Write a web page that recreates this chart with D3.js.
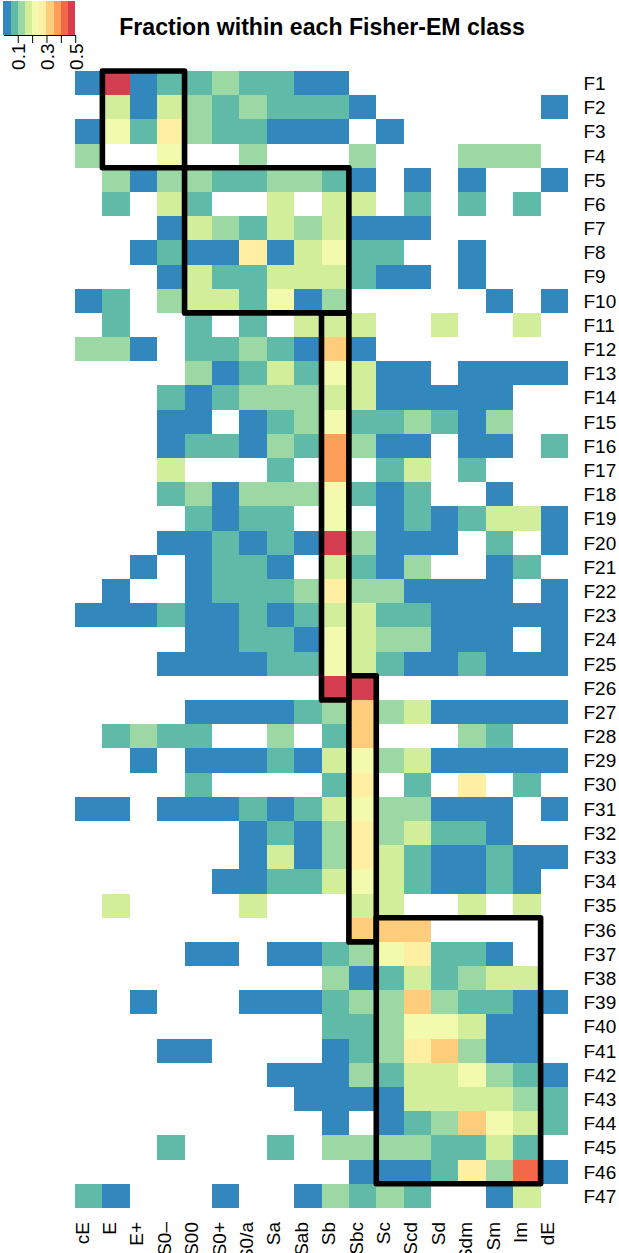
<!DOCTYPE html>
<html><head><meta charset="utf-8">
<script src="https://cdn.jsdelivr.net/npm/d3@7/dist/d3.min.js"></script>
<style>html,body{margin:0;padding:0;background:#fff;overflow:hidden}svg{display:block}text{font-family:"Liberation Sans",Arial,sans-serif;fill:#000}</style>
</head><body><svg id="c" width="619" height="1253"></svg>
<script>
const morphTypes = ["cE","E","E+","S0–","S00","S0+","S0/a","Sa","Sab","Sb","Sbc","Sc","Scd","Sd","Sdm","Sm","Im","dE"];
const classes = d3.range(1,48).map(i=>"F"+i);
const palette = ["#3288BD","#5FBAA8","#9CD8A4","#D3EE9B","#F2FAAD","#FEEFA3","#FDCD7B","#FD9F5B","#F1694A","#D53E4F"];
const legendTicks = [0.1,0.2,0.3,0.4,0.5];
const legendLabels = [0.1,0.3,0.5];
const _ = null;
const a=.03,b=.08,c=.13,d=.18,e=.23,f=.28,g=.33,h=.38,i9=.43,j=.48;
const fractions = [
[a,j,a,b,b,c,b,b,a,a,_,_,_,_,_,_,_,_],
[_,d,a,d,c,b,c,b,b,b,a,_,_,_,_,_,_,a],
[a,e,b,f,c,b,b,a,a,a,_,a,_,_,_,_,_,_],
[c,_,_,e,_,_,c,_,_,_,c,_,_,_,c,c,c,_],
[_,c,a,c,c,b,b,c,c,b,a,_,a,_,a,_,_,a],
[_,b,_,d,b,_,_,d,_,d,d,_,b,_,b,_,b,_],
[_,_,_,a,d,c,b,d,c,d,a,a,a,_,_,_,_,_],
[_,_,a,b,a,a,f,a,d,e,b,b,_,_,a,_,_,_],
[_,_,_,a,d,b,b,d,d,d,b,a,a,_,a,_,_,_],
[a,b,_,c,d,d,b,e,a,c,_,_,_,_,_,a,_,a],
[_,b,_,_,b,_,b,_,d,d,d,_,_,d,_,_,d,_],
[c,c,a,_,b,b,c,b,a,g,a,_,_,_,_,_,_,_],
[_,_,_,_,c,a,b,d,b,e,d,a,a,_,a,a,a,a],
[_,_,_,b,a,b,c,c,c,d,d,a,a,a,a,a,_,_],
[_,_,_,a,a,_,a,b,c,e,b,b,c,b,a,c,_,_],
[_,_,_,a,b,b,a,c,b,h,c,a,a,_,a,a,_,b],
[_,_,_,d,_,_,_,b,_,h,_,b,d,_,b,_,_,_],
[_,_,_,b,c,a,c,c,c,e,b,a,b,_,_,a,_,_],
[_,_,_,_,b,a,b,b,_,e,_,a,b,a,b,d,d,a],
[_,_,_,a,a,b,a,b,a,j,c,a,a,a,_,b,_,a],
[_,_,a,_,a,b,b,a,_,d,b,a,c,_,_,a,b,_],
[_,a,_,_,a,b,b,b,c,f,c,c,a,a,a,a,_,a],
[a,a,a,b,a,a,b,a,b,d,d,b,b,a,a,a,a,a],
[_,_,_,_,a,a,b,b,a,e,d,c,c,a,a,a,_,a],
[_,_,_,a,a,a,a,b,b,e,d,b,a,a,b,a,a,a],
[_,_,_,_,_,_,_,_,_,j,j,_,_,_,_,_,_,_],
[_,_,_,_,a,a,a,a,b,c,g,c,d,a,a,a,a,a],
[_,b,c,b,b,_,_,c,_,b,g,_,_,_,c,b,_,_],
[_,_,a,_,a,a,a,b,a,d,e,c,d,a,a,a,a,a],
[_,_,_,_,b,_,_,_,_,b,f,_,b,_,f,_,b,_],
[a,a,_,a,a,a,b,a,b,d,e,c,c,a,a,a,_,a],
[_,_,_,_,_,_,a,b,a,c,f,c,d,b,b,a,_,_],
[_,_,_,_,_,_,a,d,a,c,f,d,b,a,a,b,a,a],
[_,_,_,_,_,a,a,b,b,d,e,d,b,a,a,b,a,_],
[_,d,_,_,_,_,d,_,_,_,d,d,_,_,d,_,d,_],
[_,_,_,_,_,_,_,_,_,_,g,g,g,_,_,_,_,_],
[_,_,_,_,a,a,_,a,a,b,c,e,f,b,b,a,_,_],
[_,_,_,_,_,_,_,_,_,c,a,b,d,b,c,d,d,_],
[_,_,a,_,_,_,a,a,a,b,c,c,g,c,b,b,a,a],
[_,_,_,_,_,_,_,_,_,b,b,c,e,e,d,a,a,_],
[_,_,_,a,a,_,_,_,_,a,b,c,f,g,c,a,a,_],
[_,_,_,_,_,_,_,a,a,a,c,b,d,d,e,c,b,a],
[_,_,_,_,_,_,_,_,a,a,a,a,d,d,d,d,c,b],
[_,_,_,_,_,_,_,_,_,a,_,a,b,c,g,e,d,b],
[_,_,_,b,_,_,_,b,_,c,c,c,c,b,b,d,b,_],
[_,_,_,_,_,_,_,_,_,_,a,a,a,b,f,c,i9,a],
[b,a,_,_,_,a,_,_,a,c,b,c,b,_,_,a,d,_]
];
const boxColStart = ["E","S00","Sb","Sbc","Sc"];
const boxColEnd   = ["S00","Sbc","Sbc","Sc","dE"];
const boxRowStart = ["F1","F5","F11","F26","F36"];
const boxRowEnd   = ["F5","F11","F27","F37","F47"];

const svg = d3.select("#c");
const x = d3.scaleBand().domain(morphTypes).range([75,568]);
const y = d3.scaleBand().domain(classes).range([71,1208]);
const color = d3.scaleQuantize().domain([0,0.5]).range(palette);

svg.append("g").attr("shape-rendering","crispEdges").selectAll("g").data(fractions).join("g")
  .attr("transform",(r,k)=>`translate(0,${y(classes[k])})`)
  .selectAll("rect").data(r=>r.map((v,k)=>({v,k})).filter(o=>o.v!==null)).join("rect")
  .attr("x",o=>x(morphTypes[o.k])).attr("width",x.bandwidth())
  .attr("height",y.bandwidth()).attr("fill",o=>color(o.v));

boxColStart.forEach((cs,k)=>{
  svg.append("rect").attr("x",x(cs)).attr("y",y(boxRowStart[k]))
    .attr("width",x(boxColEnd[k])-x(cs)).attr("height",y(boxRowEnd[k])-y(boxRowStart[k]))
    .attr("fill","none").attr("stroke","#000").attr("stroke-width",5.6).attr("stroke-linejoin","round");
});

const ax = svg.append("g").attr("transform","translate(0,1222)").call(d3.axisBottom(x).tickSize(0));
ax.select(".domain").remove();
ax.selectAll("text").attr("font-size",19).style("font-family",'"Liberation Sans"')
  .attr("text-anchor","end").attr("dy",null).attr("y",0).attr("x",0)
  .attr("transform","rotate(-90)");

const ay = svg.append("g").attr("transform","translate(583.5,0)").call(d3.axisRight(y).tickSize(0));
ay.select(".domain").remove();
ay.selectAll("text").attr("x",0).attr("font-size",19).style("font-family",'"Liberation Sans"').attr("dy","0.36em");

svg.append("text").attr("x",322).attr("y",35).attr("text-anchor","middle")
  .attr("font-size",23.1).attr("font-weight","bold").text("Fraction within each Fisher-EM class");

const lx = d3.scaleLinear().domain([0,0.5]).range([3.4,75.2]);
svg.append("g").attr("shape-rendering","crispEdges").selectAll("rect").data(palette).join("rect")
  .attr("x",(p,k)=>lx(k*0.05)).attr("y",1).attr("width",lx(0.05)-lx(0)).attr("height",34).attr("fill",p=>p);
const la = svg.append("g").attr("transform","translate(0,35)")
  .call(d3.axisBottom(lx).tickValues(legendTicks).tickSize(8).tickSizeOuter(0)
    .tickFormat(t=>legendLabels.some(l=>Math.abs(l-t)<1e-6)?d3.format(".1f")(t):""));
la.selectAll("line,path").attr("stroke","#000").attr("stroke-width",1);
la.selectAll("text").attr("font-size",19).style("font-family",'"Liberation Sans"').attr("text-anchor","end")
  .attr("dy",null).attr("y",0).attr("x",0).attr("transform","translate(7,8.5) rotate(-90)");
</script></body></html>
